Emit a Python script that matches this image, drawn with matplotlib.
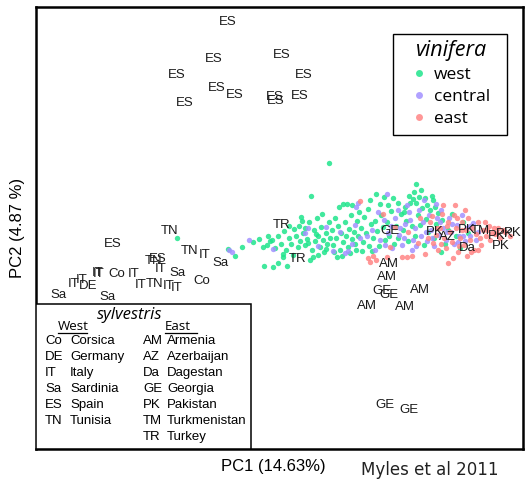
import matplotlib
matplotlib.use("Agg")
import matplotlib.pyplot as plt
from matplotlib.patches import Rectangle
from matplotlib.lines import Line2D

# ---------------------------------------------------------------------------
# PCA scores (PC1, PC2) on the plotting scale of the panel (PC2 axis inverted)
# ---------------------------------------------------------------------------
west_pc1 = [177, 228, 235, 242, 253, 259, 263, 267, 268, 270, 264, 273, 278, 283,
            272, 275, 278, 281, 284, 286, 289, 291, 294, 296, 298, 299, 289, 283,
            293, 287, 302, 301, 300,
            303, 305, 307, 309, 311, 312, 314, 315, 317, 318, 320, 321, 323, 324,
            326, 327, 329, 329, 330, 310, 313, 318, 305, 322, 308, 316, 326,
            332, 333, 335, 336, 338, 339, 340, 341, 343, 343, 345, 346, 347, 348,
            349, 351, 352, 352, 354, 355, 357, 358, 359, 334, 337, 342, 350, 356,
            361, 363, 364, 366, 368, 369, 371, 373, 375, 376, 377, 379, 381, 383,
            385, 387, 389, 391, 393, 394, 396, 398, 362, 372, 380,
            401, 403, 404, 406, 408, 410, 412, 413, 415, 416, 416, 418, 420, 422,
            424, 426, 428, 430, 432, 433, 434, 436, 438, 425, 419,
            442, 445, 448, 452, 456, 460, 463, 468, 441,
            409, 414, 421, 427, 435, 405, 398, 388, 384, 370]
west_pc2 = [238, 249, 256, 247, 242, 239, 247, 245, 236, 241, 266, 267, 263, 257,
            240, 248, 236, 244, 231, 250, 238, 244, 229, 236, 247, 226, 226, 254,
            255, 266, 221, 217, 241,
            233, 245, 239, 222, 196, 250, 230, 241, 218, 236, 247, 227, 240, 252,
            233, 244, 163, 222, 238, 260, 257, 255, 228, 214, 243, 234, 249,
            230, 245, 218, 238, 226, 207, 250, 233, 204, 242, 222, 236, 204, 247,
            229, 215, 205, 239, 232, 244, 221, 236, 212, 252, 257, 256, 253, 250,
            228, 242, 217, 233, 209, 246, 224, 238, 221, 194, 231, 246, 215, 227,
            240, 222, 236, 211, 198, 244, 226, 238, 251, 251, 204,
            214, 230, 212, 221, 241, 203, 226, 199, 236, 184, 203, 215, 225, 208,
            245, 219, 232, 210, 196, 200, 238, 224, 213, 198, 197,
            220, 244, 230, 214, 236, 248, 222, 233, 252,
            196, 192, 190, 205, 207, 207, 203, 205, 197, 200]

central_pc1 = [229, 232, 249, 273, 305, 308, 333, 345, 348, 355, 356, 358, 387, 378,
               407, 367, 372, 380, 384, 388, 392, 395, 399, 402, 405, 409, 413, 415,
               419, 421, 423, 427, 429, 431, 434, 437, 439, 441, 443, 446, 449, 451,
               454, 457, 459, 462, 465, 467, 470, 473, 476, 360, 352, 340, 326, 318,
               375, 398, 412, 424, 436,
               400, 404, 410, 416, 426, 432, 440, 447, 452, 458, 463, 470, 478, 391,
               385]
central_pc2 = [250, 252, 240, 249, 233, 228, 251, 253, 251, 225, 207, 203, 194, 212,
               205, 236, 230, 240, 220, 233, 248, 218, 235, 245, 224, 212, 240, 228,
               210, 236, 222, 241, 215, 230, 246, 218, 235, 210, 228, 240, 218, 232,
               244, 225, 236, 215, 241, 228, 236, 223, 240, 238, 244, 232, 227, 246,
               250, 210, 250, 200, 204,
               228, 238, 220, 246, 232, 238, 222, 232, 224, 242, 236, 226, 232, 226,
               245]

east_pc1 = [360, 383, 368, 373, 376, 370, 387, 402, 407, 390, 443, 448, 453, 478,
            492, 497, 430, 433, 436, 438, 440, 442, 444, 446, 448, 450, 452, 454,
            456, 458, 460, 462, 464, 466, 468, 470, 472, 474, 476, 478, 480, 483,
            486, 489, 494, 500, 503, 425, 418, 412, 395, 408, 420, 455, 465,
            485, 490, 495, 498, 505, 510, 471, 467, 459, 447, 441, 437, 432, 428,
            457, 462, 481, 487]
east_pc2 = [201, 214, 258, 256, 260, 262, 257, 257, 257, 247, 205, 263, 258, 250,
            233, 233, 222, 243, 235, 250, 228, 214, 238, 248, 222, 232, 242, 215,
            228, 252, 238, 222, 245, 230, 218, 240, 228, 250, 234, 222, 238, 230,
            236, 226, 228, 238, 230, 254, 243, 256, 227, 232, 218, 205, 210,
            222, 240, 234, 228, 232, 236, 252, 256, 246, 226, 244, 228, 216, 238,
            218, 230, 245, 230]

# wild (sylvestris) accessions, plotted as their country codes
wild_code = ["ES"] * 11 + [
    "TN", "ES", "TN", "IT", "Sa", "ES", "TN", "IT", "Sa", "Co", "Co", "IT", "IT",
    "IT", "IT", "IT", "DE", "IT", "TN", "IT", "IT", "Sa", "Sa",
    "TR", "TR", "GE", "PK", "AZ", "PK", "TM", "Da", "PK", "PK", "PK", "PK",
    "AM", "AM", "GE", "GE", "AM", "AM", "AM", "GE", "GE"]
wild_pc1 = [228, 214, 282, 177, 304, 217, 235, 275, 276, 300, 185,
            170, 113, 190, 205, 220, 158, 154, 161, 177, 202, 117, 98, 99,
            134, 74, 82, 88, 141, 155, 169, 177, 58, 107,
            282, 298, 390, 435, 447, 467, 480, 467, 497, 505, 513, 501,
            389, 387, 382, 389, 420, 367, 405, 385, 409]
wild_pc2 = [22, 59, 55, 75, 75, 88, 95, 97, 101, 96, 103,
            231, 244, 251, 255, 263, 259, 261, 269, 273, 281, 274, 273, 274,
            274, 284, 280, 286, 285, 284, 286, 288, 295, 297,
            225, 259, 231, 232, 237, 230, 231, 248, 236, 234, 233, 246,
            264, 277, 291, 295, 290, 306, 307, 405, 410]

group_names = ["west", "central", "east"]
group_colors = ["#1fe58c", "#a391ff", "#ff8585"]

west_codes = ["Co", "DE", "IT", "Sa", "ES", "TN"]
west_countries = ["Corsica", "Germany", "Italy", "Sardinia", "Spain", "Tunisia"]
east_codes = ["AM", "AZ", "Da", "GE", "PK", "TM", "TR"]
east_countries = ["Armenia", "Azerbaijan", "Dagestan", "Georgia", "Pakistan",
                  "Turkmenistan", "Turkey"]

# ---------------------------------------------------------------------------
W, H = 527, 479
fig = plt.figure(figsize=(W / 100, H / 100), dpi=100)
x0, x1, y0, y1 = 36, 523, 7, 449
ax = fig.add_axes([x0 / W, (H - y1) / H, (x1 - x0) / W, (y1 - y0) / H])
ax.set_xlim(x0, x1)
ax.set_ylim(y1, y0)
ax.set_xticks([])
ax.set_yticks([])
for sp in ax.spines.values():
    sp.set_linewidth(1.8)
    sp.set_color("black")

label_font = "Liberation Sans"
soft_font = "Open Sans"

for px, py, col in zip([west_pc1, central_pc1, east_pc1],
                       [west_pc2, central_pc2, east_pc2], group_colors):
    ax.scatter(px, py, s=15, c=col, alpha=0.85, linewidths=0, zorder=2)

for code, px, py in zip(wild_code, wild_pc1, wild_pc2):
    ax.text(px, py, code, ha="center", va="center", fontsize=9.5,
            family=label_font, color="#1a1a1a", zorder=3)

# cultivated (vinifera) legend, boxed by a plain rectangle
bx0, bx1, by0, by1 = 393, 507, 34, 135
ax.add_patch(Rectangle((bx0, by0), bx1 - bx0, by1 - by0, facecolor="white",
                       edgecolor="black", linewidth=1.0, zorder=4))
handles = [Line2D([], [], ls="", marker="o", ms=5, mec="none", mfc=c, alpha=0.85)
           for c in group_colors]
leg = ax.legend(handles, group_names, title="vinifera", loc="center",
                bbox_to_anchor=(((bx0 + bx1) / 2 + 2 - x0) / (x1 - x0),
                                (y1 - (by0 + by1) / 2 + 1) / (y1 - y0)),
                borderaxespad=0, frameon=False,
                prop=dict(family=soft_font, size=12.5),
                title_fontproperties=dict(family=soft_font, style="italic", size=15.5),
                handlelength=0.6, handletextpad=0.55, labelspacing=0.33,
                borderpad=0.0)
leg.set_zorder(5)

# wild (sylvestris) key in the lower-left corner
ax.add_patch(Rectangle((x0, 304), 251 - x0, y1 - 304, facecolor="white",
                       edgecolor="black", linewidth=1.1, zorder=4))
ax.text(130, 315, "sylvestris", ha="center", va="center", fontsize=12,
        family=soft_font, style="italic", zorder=5)
ax.text(73, 326, "West", ha="center", va="center", fontsize=9.5,
        family=soft_font, zorder=5)
ax.text(178, 326, "East", ha="center", va="center", fontsize=9.5,
        family=soft_font, zorder=5)
ax.plot([58, 87], [333, 333], color="black", lw=0.9, zorder=5)
ax.plot([165, 197], [333, 333], color="black", lw=0.9, zorder=5)
row_y = [341, 357, 373, 389, 405, 421, 437]
for code, name, ry in zip(west_codes, west_countries, row_y):
    ax.text(45, ry, code, ha="left", va="center", fontsize=9.5, family=label_font, zorder=5)
    ax.text(70, ry, name, ha="left", va="center", fontsize=9.5, family=label_font, zorder=5)
for code, name, ry in zip(east_codes, east_countries, row_y):
    ax.text(143, ry, code, ha="left", va="center", fontsize=9.5, family=label_font, zorder=5)
    ax.text(167, ry, name, ha="left", va="center", fontsize=9.5, family=label_font, zorder=5)

fig.text(273 / W, 1 - 466 / H, "PC1 (14.63%)", ha="center", va="center",
         fontsize=12, family=label_font)
fig.text(18 / W, 1 - 228 / H, "PC2 (4.87 %)", ha="center", va="center",
         rotation=90, fontsize=12, family=label_font)
fig.text(430 / W, 1 - 470 / H, "Myles et al 2011", ha="center", va="center",
         fontsize=12, family="Liberation Sans Narrow", color="#222222")

fig.savefig("out.png", dpi=100)
